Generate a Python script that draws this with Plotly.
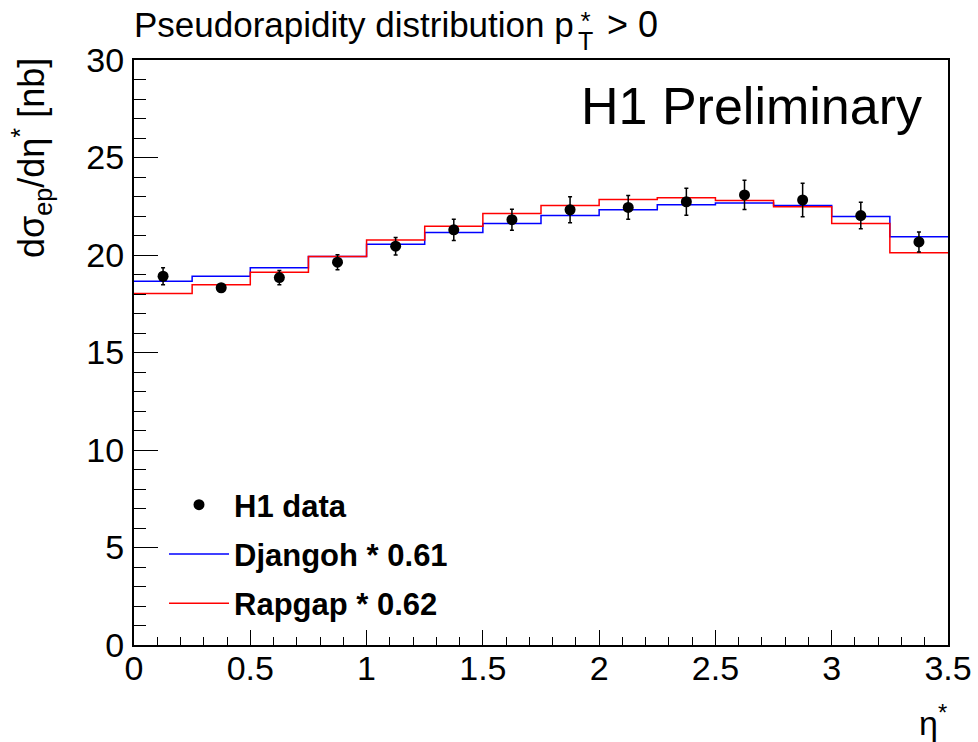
import numpy as np
import plotly.graph_objects as go

# ---- data ----
bin_edges = [0.0, 0.25, 0.5, 0.75, 1.0, 1.25, 1.5, 1.75, 2.0, 2.25, 2.5, 2.75, 3.0, 3.25, 3.5]
h1_data = [18.91, 18.32, 18.84, 19.63, 20.45, 21.29, 21.81, 22.32, 22.44, 22.73, 23.08, 22.82, 22.02, 20.67]
h1_err = [0.44, 0.15, 0.36, 0.38, 0.45, 0.54, 0.54, 0.67, 0.61, 0.69, 0.75, 0.86, 0.68, 0.51]
djangoh = [18.65, 18.91, 19.34, 19.92, 20.55, 21.15, 21.62, 22.02, 22.32, 22.58, 22.67, 22.54, 21.98, 20.93]
rapgap = [18.02, 18.47, 19.11, 19.92, 20.77, 21.47, 22.13, 22.54, 22.84, 22.94, 22.80, 22.48, 21.62, 20.12]

x_tickvals = [0, 0.5, 1, 1.5, 2, 2.5, 3, 3.5]
x_ticktext = ["0", "0.5", "1", "1.5", "2", "2.5", "3", "3.5"]
y_tickvals = [0, 5, 10, 15, 20, 25, 30]
y_ticktext = ["0", "5", "10", "15", "20", "25", "30"]

edges = np.array(bin_edges)
centers = 0.5 * (edges[:-1] + edges[1:])

def step(vals):
    return list(edges), list(vals) + [vals[-1]]

FONT = "Liberation Sans"
W, H = 978, 742
PL, PR, PT, PB = 134, 948, 60, 645          # plot area in screen pixels
L, T, R, B = PL, PT, W - PR, H - PB
PW, PH = PR - PL, PB - PT

def px_x(px):
    return (px - PL) / PW

def px_y(py):
    return (PB - py) / PH

fig = go.Figure()

xs, ys = step(djangoh)
fig.add_trace(go.Scatter(x=xs, y=ys, mode="lines", line=dict(color="#0000ff", width=1.5, shape="hv"),
                         name="Djangoh * 0.61", legendrank=2, legendgroup="b"))
xs, ys = step(rapgap)
fig.add_trace(go.Scatter(x=xs, y=ys, mode="lines", line=dict(color="#ff0000", width=1.5, shape="hv"),
                         name="Rapgap * 0.62", legendrank=3, legendgroup="c"))
fig.add_trace(go.Scatter(x=centers, y=h1_data, mode="markers",
                         marker=dict(color="black", size=11),
                         error_y=dict(type="data", array=h1_err, color="black", thickness=1.5, width=2),
                         name="H1 data", legendrank=1, legendgroup="a"))

axis_common = dict(
    showgrid=False, zeroline=False, showline=True, linecolor="black", linewidth=2,
    mirror=True, ticks="inside", tickcolor="black", tickwidth=1.2, automargin=False,
    tickfont=dict(family=FONT, size=34, color="black"),
)

fig.update_xaxes(range=[0, 3.5], tickvals=x_tickvals, ticktext=x_ticktext, ticklen=15,
                 minor=dict(dtick=0.1, ticks="inside", ticklen=8, tickcolor="black", tickwidth=1.2),
                 ticklabelstandoff=-8, **axis_common)
fig.update_yaxes(range=[0, 30], tickvals=y_tickvals, ticktext=y_ticktext, ticklen=24,
                 minor=dict(dtick=1, ticks="inside", ticklen=12, tickcolor="black", tickwidth=1.2),
                 ticklabelstandoff=1, **axis_common)

ann = []
# title pieces (p with stacked * and T)
ann.append(dict(text="Pseudorapidity distribution p", x=px_x(576), y=px_y(25), xref="paper", yref="paper",
                xanchor="right", yanchor="middle", showarrow=False, font=dict(family=FONT, size=35, color="black")))
ann.append(dict(text='<span style="font-size:26px">*</span><br><span style="font-size:25px">T</span>',
                x=px_x(585), y=px_y(31), xref="paper", yref="paper", align="center",
                xanchor="center", yanchor="middle", showarrow=False, font=dict(family=FONT, size=15, color="black")))
ann.append(dict(text="> 0", x=px_x(605), y=px_y(25), xref="paper", yref="paper",
                xanchor="left", yanchor="middle", showarrow=False, font=dict(family=FONT, size=36, color="black")))
# H1 Preliminary
ann.append(dict(text="H1 Preliminary", x=px_x(924), y=px_y(106), xref="paper", yref="paper",
                xanchor="right", yanchor="middle", showarrow=False, font=dict(family=FONT, size=52, color="black")))
# y title
ann.append(dict(text="dσ<sub>ep</sub>/dη<sup>*</sup> [nb]", x=px_x(32), y=px_y(158), xref="paper", yref="paper",
                xanchor="center", yanchor="middle", textangle=-90, showarrow=False,
                font=dict(family=FONT, size=36, color="black")))
# x title
ann.append(dict(text="η<sup>*</sup>", x=px_x(949), y=px_y(720), xref="paper", yref="paper",
                xanchor="right", yanchor="middle", showarrow=False, font=dict(family=FONT, size=34, color="black")))

fig.update_layout(
    width=W, height=H,
    margin=dict(l=L, r=R, t=T, b=B, autoexpand=False),
    paper_bgcolor="white", plot_bgcolor="white",
    annotations=ann,
    showlegend=True,
    legend=dict(x=px_x(164), y=px_y(478), xanchor="left", yanchor="top",
                bgcolor="rgba(0,0,0,0)", font=dict(family=FONT, size=31, color="black", weight="bold"),
                tracegroupgap=6, itemwidth=60, traceorder="grouped"),
)

# remove the browser's default 8px body margin so the figure fills the window exactly
fig.write_html("out.html", config={"displayModeBar": False},
               post_script="document.body.style.margin='0px';")
